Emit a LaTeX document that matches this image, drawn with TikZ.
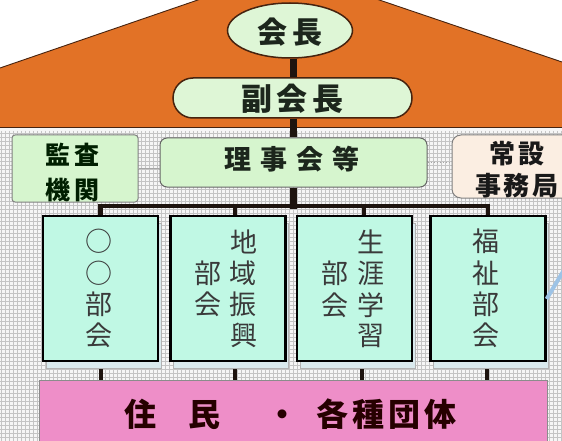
\documentclass[tikz,border=0pt]{standalone}
\usepackage{fontspec}
\newfontfamily\jp{Noto Sans CJK JP}
\usetikzlibrary{shapes.geometric,shadows}
\definecolor{roof}{RGB}{226,114,38}
\definecolor{roofline}{RGB}{70,35,15}
\definecolor{ovalfill}{RGB}{222,246,214}
\definecolor{boxgreen}{RGB}{214,245,206}
\definecolor{peach}{RGB}{251,238,226}
\definecolor{mint}{RGB}{192,248,228}
\definecolor{pinkfill}{RGB}{238,142,200}
\definecolor{gridbg}{RGB}{246,246,246}
\definecolor{gridln}{RGB}{196,196,196}
\definecolor{barc}{RGB}{30,20,15}
\definecolor{txt}{RGB}{28,38,28}
\definecolor{vtxt}{RGB}{58,58,58}
\definecolor{blueline}{RGB}{157,195,230}
\definecolor{shadowc}{RGB}{218,234,238}
\begin{document}
\begin{tikzpicture}[x=1pt,y=-1pt,
  lbl/.style={inner sep=0pt, align=center, font=\jp\bfseries, text=txt},
  vlbl/.style={inner sep=0pt, font=\jp, text=vtxt},
  bukai/.style={draw=black, line width=2.2pt, fill=mint, minimum width=115pt, minimum height=145pt, inner sep=0pt,
    general shadow={fill=shadowc, draw=gray!60, line width=0.6pt, shadow xshift=3pt, shadow yshift=-7pt}},
  vbar/.style={draw=barc, line width=7pt},
  hbar/.style={draw=barc, line width=4.5pt},
  dbar/.style={draw=barc, line width=4pt}]
\useasboundingbox (0,0) rectangle (562,441);
\clip (0,0) rectangle (562,441);
% background
\fill[white] (0,0) rectangle (562,441);
\fill[gridbg] (0,128) rectangle (562,441);
\foreach \gx in {1.5,5.5,...,562} {\draw[gridln, line width=0.7pt] (\gx,131) -- (\gx,441);}
\foreach \gy in {133.5,137.5,...,441} {\draw[gridln, line width=0.7pt] (0,\gy) -- (562,\gy);}
% roof
\fill[roof] (0,68) -- (288,-31) -- (562,62) -- (562,127) -- (0,127) -- cycle;
\draw[roofline, line width=0.9pt] (0,68) -- (288,-31) -- (562,62);
\draw[roofline, line width=1.4pt] (0,127.5) -- (562,127.5);
% top nodes
\node[ellipse, draw=roofline, line width=1.5pt, fill=ovalfill, minimum width=125pt, minimum height=55pt, inner sep=0pt] (kaicho) at (290,30.5) {};
\node[rectangle, rounded corners=20pt, draw=roofline, line width=1.5pt, fill=ovalfill, minimum width=239pt, minimum height=40pt, inner sep=0pt] (fuku) at (292.5,98) {};
\node[rectangle, rounded corners=7pt, draw=black!60, line width=1pt, fill=boxgreen, minimum width=267pt, minimum height=49pt, inner sep=0pt] (riji) at (293.5,162.5) {};
\node[rectangle, rounded corners=3pt, draw=black!50, line width=1pt, fill=boxgreen, minimum width=126pt, minimum height=67pt, inner sep=0pt] (kansa) at (75,168.5) {};
\node[rectangle, rounded corners=9pt, draw=black!50, line width=1pt, fill=peach, minimum width=133pt, minimum height=63pt, inner sep=0pt] (jomu) at (518.5,166.5) {};
% connectors top
\coordinate (cx) at (293.5,0);
\draw[vbar] (kaicho.south -| cx) -- (fuku.north -| cx);
\draw[vbar] (fuku.south -| cx) -- (riji.north -| cx);
\draw[gray!70, line width=0.9pt] (kansa.east) -- (kansa.east -| riji.west);
\draw[gray!70, line width=1pt, dotted] (riji.east) -- (riji.east -| jomu.west);
% committee boxes
\node[bukai] (b1) at (100.5,288.5) {};
\node[bukai] (b2) at (228,288.5) {};
\node[bukai] (b3) at (354.5,288.5) {};
\node[bukai] (b4) at (488,288.5) {};
% bottom box
\node[rectangle, draw=black!45, line width=0.8pt, fill=pinkfill, minimum width=508pt, minimum height=90pt, inner sep=0pt] (jumin) at (293,425) {};
% tree connectors
\draw[vbar] (riji.south) -- ++(0,21);
\draw[hbar] (b1.north) -- ++(0,-9) -| (b4.north);
\draw[dbar] ([xshift=7pt]b2.north) -- ++(0,-9);
\draw[dbar] ([xshift=9.5pt]b3.north) -- ++(0,-9);
\draw[dbar] ([yshift=-7pt]b1.south) -- (b1.south |- jumin.north);
\draw[dbar] ([xshift=7pt,yshift=-7pt]b2.south) -- ([xshift=7pt]b2.south |- jumin.north);
\draw[dbar] ([xshift=7.5pt,yshift=-7pt]b3.south) -- ([xshift=7.5pt]b3.south |- jumin.north);
\draw[dbar] ([xshift=-1pt,yshift=-7pt]b4.south) -- ([xshift=-1pt]b4.south |- jumin.north);
% blue line
\coordinate (blueend) at (567,265);
\draw[blueline, line width=4pt] ([yshift=-10.5pt]b4.east) -- (blueend);
% labels
\node[lbl, font=\jp\bfseries\fontsize{30}{30}\selectfont] (t1) at (290,32) {会\hspace{5pt}長};
\node[lbl, font=\jp\bfseries\fontsize{31}{31}\selectfont] (t2) at (292.5,99) {副\hspace{5pt}会\hspace{5pt}長};
\node[lbl, font=\jp\bfseries\fontsize{27}{27}\selectfont] (t3) at (292,159) {理\hspace{9pt}事\hspace{9pt}会\hspace{9pt}等};
\node[lbl, text=black!70!green!40!black, font=\jp\bfseries\fontsize{25}{35}\selectfont] (t4) at (72,172) {監\hspace{4pt}査\\機\hspace{4pt}関};
\node[lbl, text=black!90, font=\jp\bfseries\fontsize{26}{32}\selectfont] (t5) at (517,170) {常\hspace{3pt}設\\事\hspace{3pt}務\hspace{3pt}局};
\node[lbl, text=black!85!red, font=\jp\bfseries\fontsize{32}{32}\selectfont] (t6) at (290.5,414) {住\hspace{33pt}民\hspace{46pt}・\hspace{18pt}各\hspace{4pt}種\hspace{4pt}団\hspace{4pt}体};
% vertical texts
\node[vlbl, font=\jp\fontsize{27}{29}\selectfont] (v1) at (99,292) {\begin{tabular}{@{}c@{}}○\\○\\部\\会\end{tabular}};
\node[vlbl, font=\jp\fontsize{27}{29}\selectfont] (v2) at (225.5,292) {\begin{tabular}{@{}c@{\hspace{9pt}}c@{}}&地\\部&域\\会&振\\&興\end{tabular}};
\node[vlbl, font=\jp\fontsize{27}{29}\selectfont] (v3) at (353,292) {\begin{tabular}{@{}c@{\hspace{9pt}}c@{}}&生\\部&涯\\会&学\\&習\end{tabular}};
\node[vlbl, font=\jp\fontsize{27}{29}\selectfont] (v4) at (486,292) {\begin{tabular}{@{}c@{}}福\\祉\\部\\会\end{tabular}};
\end{tikzpicture}
\end{document}
